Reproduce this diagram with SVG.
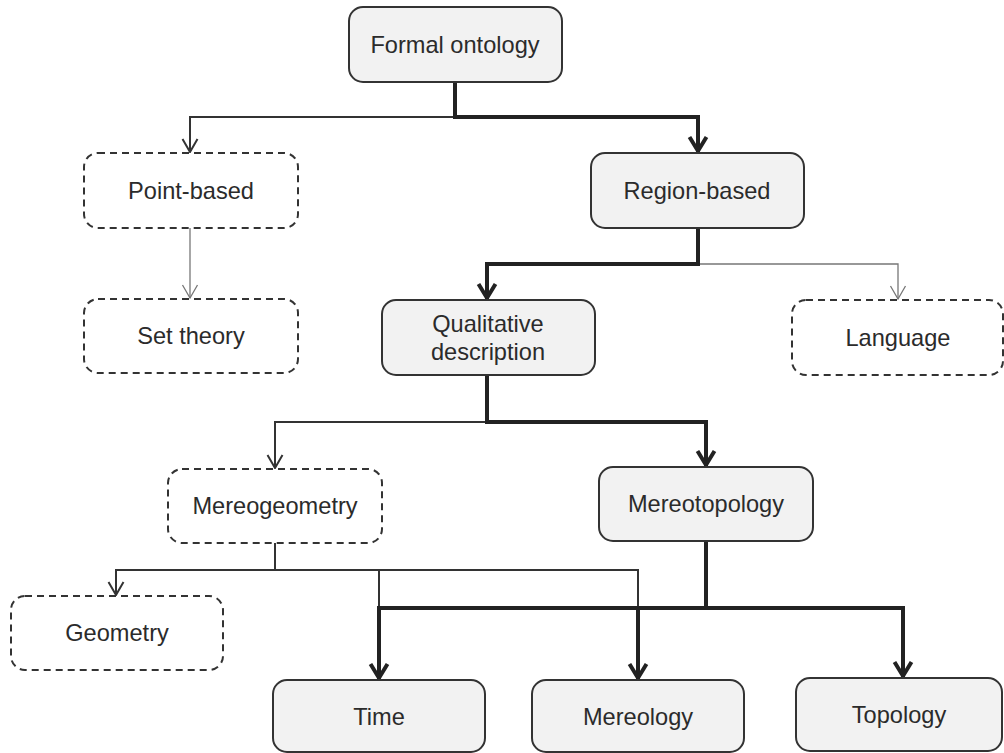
<svg xmlns="http://www.w3.org/2000/svg" width="1004" height="753" viewBox="0 0 1004 753">
<defs>
<style>
.solid{fill:#f2f2f2;stroke:#333;stroke-width:2}
.dash{fill:#fff;stroke:#333;stroke-width:2;stroke-dasharray:7 5}
text{font-family:"Liberation Sans",Arial,sans-serif;font-size:23.6px;fill:#2b2b2b;text-anchor:middle}
.thin{fill:none;stroke:#333;stroke-width:2}
.grey{fill:none;stroke:#777;stroke-width:1.3}
.thick{fill:none;stroke:#222;stroke-width:4}
</style>
<marker id="aThin" viewBox="-14 -9 16 18" markerWidth="16" markerHeight="18" refX="0" refY="0" orient="auto" markerUnits="userSpaceOnUse" overflow="visible">
<path d="M-13,-7.5 L0,0 L-13,7.5" fill="none" stroke="#333" stroke-width="2"/>
</marker>
<marker id="aGrey" viewBox="-14 -9 16 18" markerWidth="16" markerHeight="18" refX="0" refY="0" orient="auto" markerUnits="userSpaceOnUse" overflow="visible">
<path d="M-13,-7.5 L0,0 L-13,7.5" fill="none" stroke="#777" stroke-width="1.3"/>
</marker>
<marker id="aThick" viewBox="-16 -10 18 20" markerWidth="18" markerHeight="20" refX="0" refY="0" orient="auto" markerUnits="userSpaceOnUse" overflow="visible">
<path d="M-15,-8.5 L-1,0 L-15,8.5" fill="none" stroke="#222" stroke-width="4"/>
</marker>
</defs>
<g id="connectors">
<path class="thin" d="M455,117 H190 V152" marker-end="url(#aThin)"/>
<path class="thick" d="M455,82 V117 H698 V152" marker-end="url(#aThick)"/>
<path class="grey" d="M190,228 V298" marker-end="url(#aGrey)"/>
<path class="grey" d="M698,264 H898 V299" marker-end="url(#aGrey)"/>
<path class="thick" d="M698,228 V264 H487 V299" marker-end="url(#aThick)"/>
<path class="thin" d="M487,422 H275 V468" marker-end="url(#aThin)"/>
<path class="thick" d="M487,375 V422 H706 V466" marker-end="url(#aThick)"/>
<path class="thin" d="M275,543 V570 H116 V595" marker-end="url(#aThin)"/>
<path class="thin" d="M275,570 H638 V608"/>
<path class="thin" d="M379,570 V608"/>
<path class="thick" d="M706,541 V608 H379 V679" marker-end="url(#aThick)"/>
<path class="thick" d="M706,608 H903 V677" marker-end="url(#aThick)"/>
<path class="thick" d="M638,608 V679" marker-end="url(#aThick)"/>
</g>
<g id="formal-ontology"><rect class="solid" x="349" y="7" width="213" height="75" rx="14"/><text x="455" y="53">Formal ontology</text></g>
<g id="point-based"><rect class="dash" x="84" y="153" width="214" height="75" rx="14"/><text x="191" y="199">Point-based</text></g>
<g id="region-based"><rect class="solid" x="591" y="153" width="213" height="75" rx="14"/><text x="697" y="199">Region-based</text></g>
<g id="set-theory"><rect class="dash" x="84" y="299" width="214" height="74" rx="14"/><text x="191" y="344">Set theory</text></g>
<g id="qualitative-description"><rect class="solid" x="382" y="300" width="213" height="75" rx="14"/><text x="488" y="332">Qualitative</text><text x="488" y="360">description</text></g>
<g id="language"><rect class="dash" x="792" y="300" width="211" height="75" rx="14"/><text x="898" y="346">Language</text></g>
<g id="mereogeometry"><rect class="dash" x="168" y="469" width="214" height="74" rx="14"/><text x="275" y="514">Mereogeometry</text></g>
<g id="mereotopology"><rect class="solid" x="599" y="467" width="214" height="74" rx="14"/><text x="706" y="512">Mereotopology</text></g>
<g id="geometry"><rect class="dash" x="11" y="596" width="212" height="74" rx="14"/><text x="117" y="641">Geometry</text></g>
<g id="time"><rect class="solid" x="273" y="680" width="212" height="72" rx="14"/><text x="379" y="725">Time</text></g>
<g id="mereology"><rect class="solid" x="532" y="680" width="212" height="72" rx="14"/><text x="638" y="725">Mereology</text></g>
<g id="topology"><rect class="solid" x="796" y="678" width="206" height="73" rx="14"/><text x="899" y="723">Topology</text></g>
</svg>
